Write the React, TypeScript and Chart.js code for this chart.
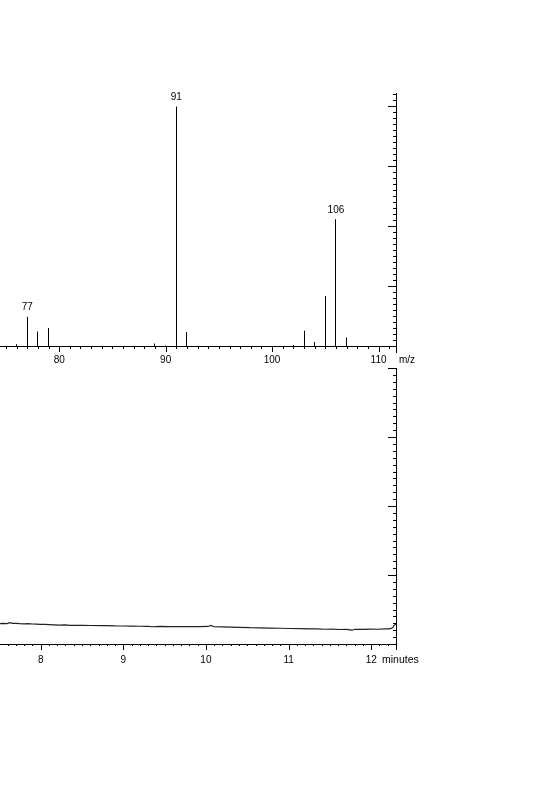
import React, { useEffect, useRef } from 'react';
import Chart from 'chart.js/auto';

const FONT = '"Liberation Sans", Arial, Helvetica, sans-serif';

// ---- Mass spectrum (top) ----
const mzValues = [76, 77, 78, 79, 89, 90, 91, 92, 102, 103, 104, 105, 106, 107];
const mzIntensity = [0.9, 12.4, 6.3, 7.7, 1.3, 0.4, 100, 6.0, 0.6, 6.6, 1.9, 21, 53, 3.8];
const mzLabeled = [77, 91, 106];
const mzTickLabels = [80, 90, 100, 110];
const mzRange = [74.44, 111.64];
const intensityRange = [0, 105.6];

// ---- Chromatogram (bottom) ----
const timeValues = [
  7.508, 7.55, 7.59, 7.629, 7.66, 7.7, 7.75, 7.8, 7.85, 7.9, 7.95, 7.992, 8.05, 8.1, 8.16,
  8.234, 8.3, 8.355, 8.42, 8.512, 8.6, 8.718, 8.8, 8.9, 8.996, 9.1, 9.202, 9.3, 9.35, 9.444,
  9.55, 9.686, 9.8, 9.928, 10.025, 10.061, 10.097, 10.2, 10.291, 10.4, 10.533, 10.65, 10.775,
  10.9, 11.017, 11.15, 11.259, 11.35, 11.44, 11.53, 11.622, 11.7, 11.743, 11.77, 11.803,
  11.9, 11.985, 12.08, 12.166, 12.215, 12.24, 12.26, 12.275, 12.3,
];
const ticValues = [
  0.294, 0.298, 0.296, 0.309, 0.3, 0.298, 0.294, 0.292, 0.294, 0.29, 0.288, 0.285, 0.283,
  0.282, 0.278, 0.275, 0.276, 0.271, 0.27, 0.271, 0.268, 0.265, 0.266, 0.262, 0.261, 0.259,
  0.257, 0.256, 0.25, 0.254, 0.252, 0.251, 0.253, 0.251, 0.254, 0.268, 0.25, 0.249, 0.245,
  0.242, 0.236, 0.235, 0.23, 0.228, 0.225, 0.224, 0.22, 0.218, 0.214, 0.217, 0.21, 0.212,
  0.205, 0.2, 0.213, 0.212, 0.215, 0.214, 0.218, 0.22, 0.226, 0.24, 0.27, 0.29,
];
const timeTickLabels = [8, 9, 10, 11, 12];
const timeRange = [7.508, 12.3];
const ticRange = [0, 4];

type TickCfg = {
  xMinor: number; xMajor: number; xMinorLen: number; xMajorLen: number;
  yMinor: number; yMajor: number; yMinorLen: number; yMajorLen: number;
  axisExt: number;
};

function tickPlugin(cfg: TickCfg) {
  return {
    id: 'axisTicks',
    afterDraw(chart: any) {
      const { ctx, chartArea } = chart;
      const x = chart.scales.x;
      const y = chart.scales.y;
      const isMul = (v: number, m: number) => Math.abs(v / m - Math.round(v / m)) < 1e-6;
      ctx.save();
      ctx.strokeStyle = '#000';
      ctx.lineWidth = 1;
      ctx.beginPath();
      const bottom = Math.round(chartArea.bottom);
      const first = Math.ceil(x.min / cfg.xMinor - 1e-9);
      for (let i = first; i * cfg.xMinor <= x.max + 1e-9; i++) {
        const v = i * cfg.xMinor;
        const px = Math.round(x.getPixelForValue(v)) + 0.5;
        const len = isMul(v, cfg.xMajor) ? cfg.xMajorLen : cfg.xMinorLen;
        ctx.moveTo(px, bottom);
        ctx.lineTo(px, bottom + len);
      }
      const right = Math.round(chartArea.right);
      for (let i = 1; i * cfg.yMinor <= y.max + 1e-9; i++) {
        const v = i * cfg.yMinor;
        const py = Math.round(y.getPixelForValue(v)) + 0.5;
        const len = isMul(v, cfg.yMajor) ? cfg.yMajorLen : cfg.yMinorLen;
        ctx.moveTo(right, py);
        ctx.lineTo(right - len, py);
      }
      ctx.moveTo(right + 0.5, bottom);
      ctx.lineTo(right + 0.5, bottom + cfg.axisExt);
      ctx.stroke();
      ctx.restore();
    },
  };
}

// snap the 1px stick bars onto whole pixels so they stay crisp
const crispBars = {
  id: 'crispBars',
  beforeDatasetsDraw(chart: any) {
    const meta = chart.getDatasetMeta(0);
    for (const el of meta.data) {
      el.x = Math.round(el.x - 0.5) + 0.5;
    }
  },
};

function textPlugin(items: (chart: any) => { text: string; x: number; y: number; align: CanvasTextAlign; size?: number }[]) {
  return {
    id: 'extraText',
    afterDraw(chart: any) {
      const ctx = chart.ctx;
      ctx.save();
      ctx.fillStyle = '#000';
      ctx.textBaseline = 'middle';
      for (const it of items(chart)) {
        ctx.font = `${it.size ?? 10}px ${FONT}`;
        ctx.textAlign = it.align;
        ctx.fillText(it.text, it.x, it.y);
      }
      ctx.restore();
    },
  };
}

const W = 557;
const TOP_H = 380;
const TOP_BASE = 346.5;
const TOP_PAD = 93;
const BOT_TOP = 360;
const BOT_H = 320;
const BOT_PAD = 8;
const BOT_BASE = 284; // 644 in page
const RIGHT = 396;

export default function App() {
  const topRef = useRef<HTMLCanvasElement>(null);
  const botRef = useRef<HTMLCanvasElement>(null);

  useEffect(() => {
    const tickFont = { family: FONT, size: 10 };

    const top = new Chart(topRef.current as HTMLCanvasElement, {
      type: 'bar',
      data: {
        datasets: [
          {
            data: mzValues.map((m, i) => ({ x: m, y: mzIntensity[i] })),
            backgroundColor: '#000',
            borderWidth: 0,
            barThickness: 1,
            inflateAmount: 0,
          },
        ],
      },
      options: {
        animation: false,
        responsive: false,
        devicePixelRatio: 1,
        layout: { padding: { top: TOP_PAD, left: 0, right: 0, bottom: 0 } },
        plugins: { legend: { display: false }, tooltip: { enabled: false } },
        scales: {
          x: {
            type: 'linear',
            offset: false,
            min: mzRange[0],
            max: mzRange[1],
            grid: { display: false, offset: false, drawTicks: false },
            border: { display: true, color: '#000', width: 1 },
            ticks: { color: '#000', font: tickFont, padding: 7.5, autoSkip: false, maxRotation: 0, callback: (v: any) => String(v) },
            afterBuildTicks: (s: any) => { s.ticks = mzTickLabels.map((v) => ({ value: v })); },
            afterFit: (s: any) => { s.height = TOP_H - TOP_BASE; },
          },
          y: {
            position: 'right',
            min: intensityRange[0],
            max: intensityRange[1],
            grid: { display: false, drawTicks: false },
            border: { display: true, color: '#000', width: 1 },
            ticks: { display: false },
            afterFit: (s: any) => { s.width = W - RIGHT; },
          },
        },
      } as any,
      plugins: [
        crispBars as any,
        tickPlugin({ xMinor: 1, xMajor: 10, xMinorLen: 2, xMajorLen: 5, yMinor: 2.5, yMajor: 25, yMinorLen: 3, yMajorLen: 8, axisExt: 6 }) as any,
        textPlugin((chart) => {
          const x = chart.scales.x;
          const y = chart.scales.y;
          const out = mzLabeled.map((m) => {
            const idx = mzValues.indexOf(m);
            return { text: String(m), x: x.getPixelForValue(m), y: y.getPixelForValue(mzIntensity[idx]) - 9, align: 'center' as CanvasTextAlign };
          });
          out.push({ text: 'm/z', x: chart.chartArea.right + 3, y: chart.chartArea.bottom + 13.5, align: 'left' as CanvasTextAlign });
          return out;
        }) as any,
      ],
    });

    const bot = new Chart(botRef.current as HTMLCanvasElement, {
      type: 'line',
      data: {
        datasets: [
          {
            data: timeValues.map((t, i) => ({ x: t, y: ticValues[i] })),
            borderColor: '#222',
            borderWidth: 1.2,
            pointRadius: 0,
            tension: 0,
          },
        ],
      },
      options: {
        animation: false,
        responsive: false,
        devicePixelRatio: 1,
        layout: { padding: { top: BOT_PAD, left: 0, right: 0, bottom: 0 } },
        plugins: { legend: { display: false }, tooltip: { enabled: false } },
        scales: {
          x: {
            type: 'linear',
            min: timeRange[0],
            max: timeRange[1],
            grid: { display: false, drawTicks: false },
            border: { display: true, color: '#000', width: 1 },
            ticks: { color: '#000', font: tickFont, padding: 10, autoSkip: false, maxRotation: 0, callback: (v: any) => String(v) },
            afterBuildTicks: (s: any) => { s.ticks = timeTickLabels.map((v) => ({ value: v })); },
            afterFit: (s: any) => { s.height = BOT_H - BOT_BASE; },
          },
          y: {
            position: 'right',
            min: ticRange[0],
            max: ticRange[1],
            grid: { display: false, drawTicks: false },
            border: { display: true, color: '#000', width: 1 },
            ticks: { display: false },
            afterFit: (s: any) => { s.width = W - RIGHT; },
          },
        },
      } as any,
      plugins: [
        tickPlugin({ xMinor: 0.1, xMajor: 1, xMinorLen: 2, xMajorLen: 6, yMinor: 0.1, yMajor: 1, yMinorLen: 3, yMajorLen: 8, axisExt: 6 }) as any,
        textPlugin((chart) => [
          { text: 'minutes', x: chart.chartArea.right - 14, y: chart.chartArea.bottom + 16, align: 'left' as CanvasTextAlign, size: 10.5 },
        ]) as any,
      ],
    });

    return () => {
      top.destroy();
      bot.destroy();
    };
  }, []);

  return (
    <div style={{ position: 'absolute', left: 0, top: 0, width: W, height: 800, background: '#fff', overflow: 'hidden' }}>
      <canvas ref={topRef} width={W} height={TOP_H} style={{ position: 'absolute', left: 0, top: 0, width: W, height: TOP_H }} />
      <canvas ref={botRef} width={W} height={BOT_H} style={{ position: 'absolute', left: 0, top: BOT_TOP, width: W, height: BOT_H }} />
    </div>
  );
}
